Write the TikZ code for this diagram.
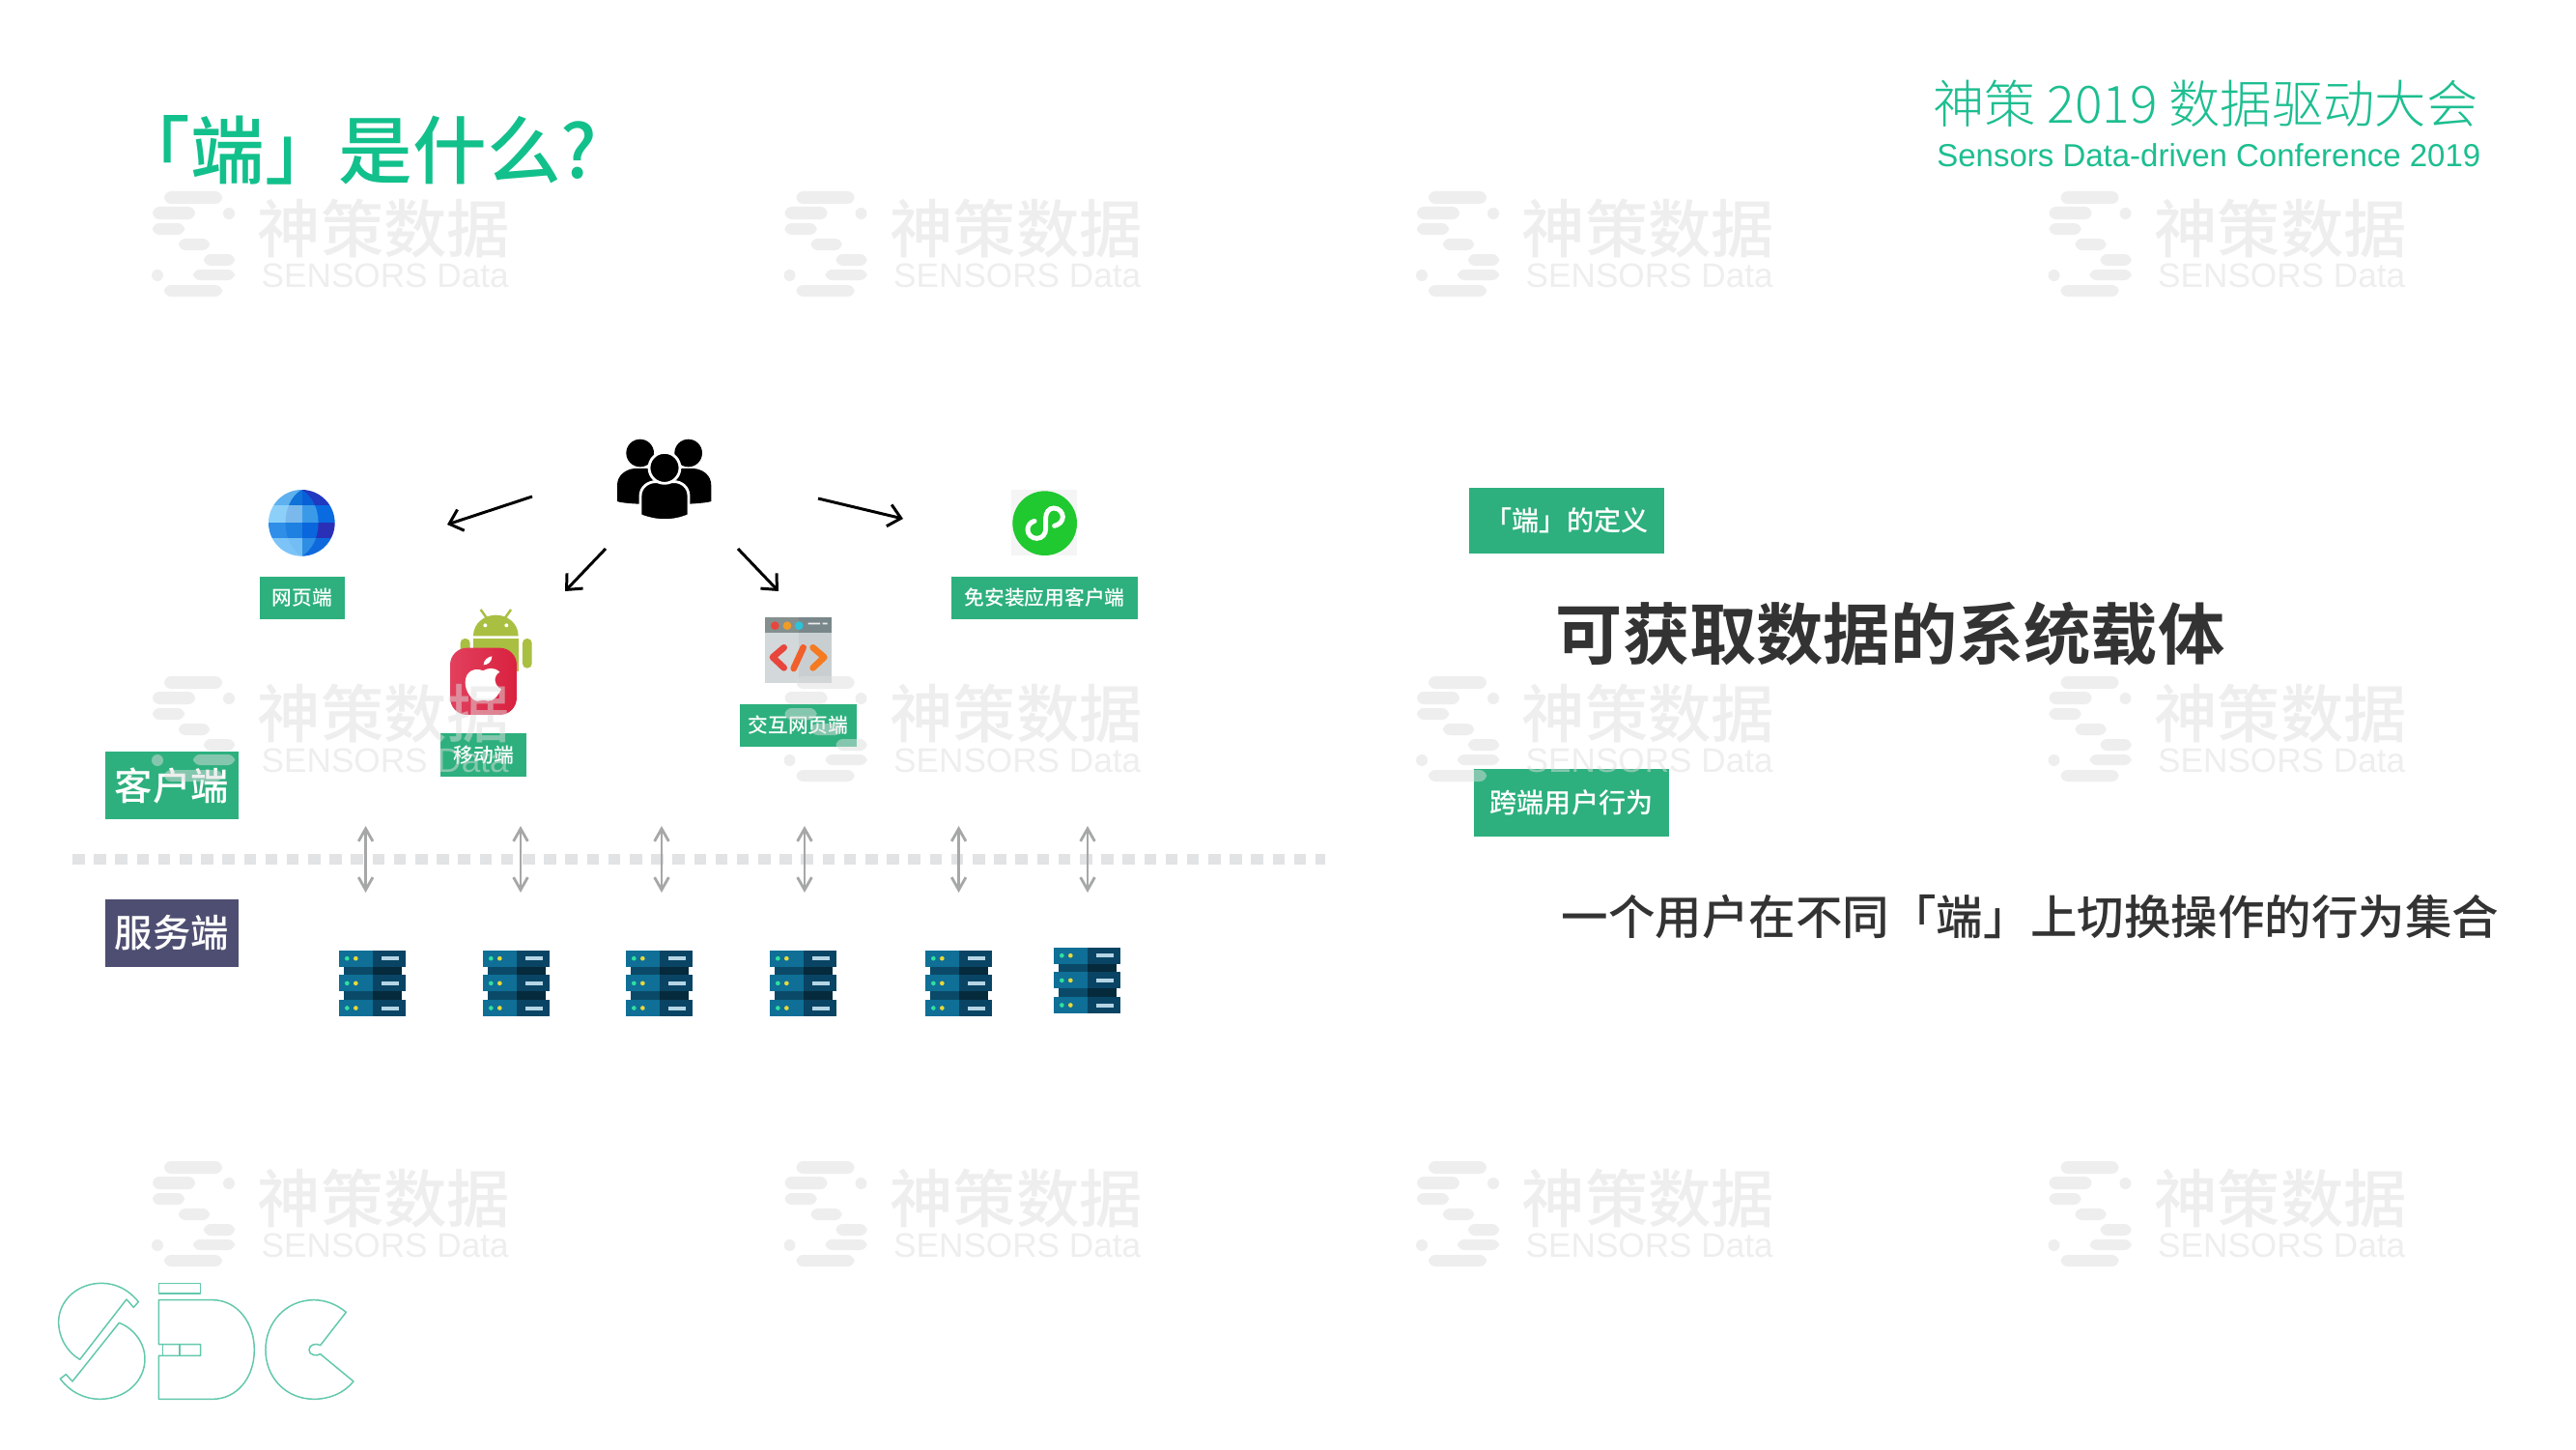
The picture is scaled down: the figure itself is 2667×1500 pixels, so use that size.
\documentclass[tikz,border=0pt]{standalone}
\usepackage{fontspec}
\usetikzlibrary{arrows.meta}
\setmainfont{Liberation Sans}
\newfontfamily\cjk{Noto Sans CJK SC}
\newfontfamily\cjkL{Noto Sans CJK SC Light}
\newfontfamily\cjkM{Noto Sans CJK SC Medium}
\newfontfamily\cjkB{Noto Sans CJK SC Bold}
\definecolor{sgreen}{HTML}{2DB07E}
\definecolor{stitle}{HTML}{12C08C}
\definecolor{shead}{HTML}{1DBE90}
\definecolor{snavy}{HTML}{4E4E72}
\definecolor{sdark}{HTML}{333333}
\definecolor{slogo}{HTML}{62C8AC}
\definecolor{sarrow}{HTML}{A6A8A8}
\definecolor{sdots}{HTML}{E1E3E5}
\definecolor{swm}{HTML}{DEDEDE}
\definecolor{srvA}{HTML}{0F6F96}
\definecolor{srvB}{HTML}{0A4464}
\definecolor{srvC}{HTML}{0A4A68}
\definecolor{srvD}{HTML}{052A3C}
\definecolor{srvE}{HTML}{B5D5E5}
\definecolor{srvF}{HTML}{2FE0A0}
\definecolor{srvG}{HTML}{E8D83A}
\definecolor{droid}{HTML}{A9BF42}
\definecolor{appleA}{HTML}{E2405E}
\definecolor{appleB}{HTML}{D9213F}
\definecolor{codeA}{HTML}{D3D8DA}
\definecolor{codeB}{HTML}{C9CFD1}
\definecolor{codeC}{HTML}{84908F}
\definecolor{codeD}{HTML}{79878A}
\definecolor{codeE}{HTML}{E8453C}
\definecolor{codeF}{HTML}{F0602A}
\definecolor{codeG}{HTML}{F57A22}
\definecolor{codeH}{HTML}{F39C24}
\definecolor{codeI}{HTML}{2CC4D8}
\definecolor{wechat}{HTML}{1FC92F}
\tikzset{
  tagbox/.style={fill=sgreen,text=white,inner sep=0pt,font=\cjkM\fontsize{5.9pt}{7pt}\selectfont},
  bigtag/.style={tagbox,font=\cjkM\fontsize{11.2pt}{12pt}\selectfont},
  deftag/.style={tagbox,font=\cjkM\fontsize{8pt}{10pt}\selectfont},
  blackarrow/.style={black,line width=0.85pt,-{Straight Barb[length=3.6pt,width=6.5pt,line width=0.85pt]}},
  greyarrow/.style={sarrow,line width=0.8pt,{Straight Barb[length=3.7pt,width=4.2pt,line width=0.8pt]}-{Straight Barb[length=3.7pt,width=4.2pt,line width=0.8pt]}},
  sdcline/.style={slogo,line width=0.42pt,line join=round},
  wmfill/.style={fill=swm,opacity=0.5,draw=none},
  wmtext/.style={text=swm,text opacity=0.5,inner sep=0pt,anchor=west},
}
\newcommand{\tagt}[1]{\raisebox{-0.35pt}{#1}}
\newcommand{\serverIcon}[2]{%
\begin{scope}[shift={(#1-6,#2-8)},scale=0.3333]
  \fill[srvC] (32,70) rectangle (122,185);
  \fill[srvD] (122,70) rectangle (212,185);
  \foreach \yy in {24,101,178}{
    \fill[srvA] (18,\yy) rectangle (122,\yy+51);
    \fill[srvB] (122,\yy) rectangle (225,\yy+51);
    \fill[srvF] (43,\yy+26) circle (7);
    \fill[srvG] (70,\yy+26) circle (7);
    \fill[srvE] (150,\yy+20) rectangle (205,\yy+32);
  }
\end{scope}}
\newcommand{\wmark}[3]{%
\begin{scope}[shift={(#1,#2)}]
  \foreach \xa/\ya/\xb/\yb in {170/198/230/211,158/214/202/227,158/231/191/243,185/247/217/259,211/263/243/275,200/279/243/290,170/295/230/307}{
    \fill[wmfill,rounded corners=2pt] (\xa,\ya) rectangle (\xb,\yb);
  }
  \fill[wmfill] (237,221) circle (6);
  \fill[wmfill] (163,285) circle (6);
  \node[wmtext,font=\cjkM\fontsize{18.6pt}{20pt}\selectfont] (wmcn#3) at (266,237) {神策数据};
  \node[wmtext,font=\fontsize{10pt}{11pt}\selectfont] (wmen#3) at (270,285) {SENSORS Data};
\end{scope}}
\begin{document}
\begin{tikzpicture}[x=0.01cm,y=-0.01cm]
\useasboundingbox (0,0) rectangle (2667,1500);
\fill[white] (0,0) rectangle (2667,1500);

% title and header
\node[inner sep=0pt,anchor=west,text=stitle,font=\cjkM\fontsize{21.8pt}{24pt}\selectfont] (title) at (120,155) {「端」是什么?};
\node[inner sep=0pt,anchor=east,text=shead,font=\cjkL\fontsize{15.15pt}{18pt}\selectfont] (headcn) at (2566,107) {神策 2019 数据驱动大会};
\node[inner sep=0pt,anchor=east,text=shead,font=\fontsize{9.38pt}{11pt}\selectfont] (headen) at (2569,161) {Sensors Data-driven Conference 2019};

% dotted divider
\coordinate (divL) at (75,889.5);
\coordinate (divR) at (1372,889.5);
\draw[sdots,line width=3.13pt,dash pattern=on 3.58pt off 2.73pt] (divL) -- (divR);

% people
\begin{scope}[shift={(630,445)},scale=0.3333]
  \fill (98,72) circle (43);
  \fill (248,72) circle (43);
  \fill (27,222) -- (27,172) .. controls (27,140) and (55,122) .. (80,120) -- (265,120) .. controls (292,122) and (319,140) .. (319,172) -- (319,222) .. controls (280,235) and (60,235) .. (27,222) -- cycle;
  \fill[black,draw=white,line width=0.8pt] (99,266) -- (99,205) .. controls (99,178) and (123,161) .. (145,161) -- (205,161) .. controls (227,161) and (249,178) .. (249,205) -- (249,266) .. controls (200,286) and (150,286) .. (99,266) -- cycle;
  \fill[black,draw=white,line width=0.8pt] (174,118) circle (48);
\end{scope}

% globe
\begin{scope}[shift={(270,500)},scale=0.3333]
  \clip (127,124) circle (103);
  \foreach \ya/\yb/\ca/\cb/\cc/\cd in {
    20/70/5EB0EE/0F72D8/0860D8/2138C0,
    70/122/8CD0FA/7BB8EC/3A9AE8/0A6AE0,
    122/170/2E8EE8/1E80E0/0A66DC/2A2FB8,
    170/230/7CC4F8/72BEF4/2E8EE4/0E6ADC}{
    \definecolor{ga}{HTML}{\ca}\definecolor{gb}{HTML}{\cb}\definecolor{gc}{HTML}{\cc}\definecolor{gd}{HTML}{\cd}
    \fill[ga] (20,\ya) rectangle (129,\yb);
    \fill[gd] (129,\ya) rectangle (235,\yb);
    \begin{scope}
      \clip (127,21) .. controls (60,60) and (60,188) .. (127,227) .. controls (196,188) and (196,60) .. (127,21) -- cycle;
      \fill[gb] (20,\ya) rectangle (129,\yb);
      \fill[gc] (129,\ya) rectangle (235,\yb);
    \end{scope}
  }
\end{scope}

% mini program mark
\begin{scope}[shift={(1040,500)},scale=0.3333]
  \fill[black!4] (22,22) rectangle (225,226);
  \fill[wechat] (125,125) circle (100);
  \draw[white,line width=1.4pt,line cap=round] (93,118) .. controls (78,122) and (72,135) .. (72,145) .. controls (72,160) and (85,172) .. (100,172) .. controls (118,172) and (128,158) .. (128,142) -- (128,108) .. controls (128,92) and (138,78) .. (153,78) .. controls (170,78) and (181,92) .. (181,105) .. controls (181,118) and (170,130) .. (155,133);
\end{scope}

% android and apple
\begin{scope}[shift={(455,625)},scale=0.3333]
  \draw[droid,line width=0.7pt] (128,18) -- (147,45) (222,18) -- (203,45);
  \fill[droid] (105,100) .. controls (105,60) and (140,35) .. (175,35) .. controls (210,35) and (245,60) .. (245,100) -- cycle;
  \fill[white] (142,67) circle (6) (208,67) circle (6);
  \fill[droid] (105,108) rectangle (245,210);
  \fill[droid,rounded corners=1.3pt] (65,108) rectangle (95,205);
  \fill[droid,rounded corners=1.3pt] (258,108) rectangle (287,200);
  \shade[left color=appleA,right color=appleB,rounded corners=5pt] (33,137) rectangle (240,345);
  \fill[white] (135,208) .. controls (115,198) and (80,205) .. (80,245) .. controls (80,275) and (105,305) .. (120,302) .. controls (130,300) and (140,297) .. (150,302) .. controls (170,305) and (185,280) .. (192,265) .. controls (170,255) and (165,225) .. (187,212) .. controls (170,195) and (150,200) .. (135,208) -- cycle;
  \fill[white] (137,190) .. controls (137,175) and (150,165) .. (163,163) .. controls (163,180) and (150,190) .. (137,190) -- cycle;
\end{scope}

% code window
\begin{scope}[shift={(785,632)},scale=0.3333]
  \fill[codeA] (22,70) rectangle (125,226);
  \fill[codeB] (125,70) rectangle (227,226);
  \fill[codeC] (22,22) rectangle (125,70);
  \fill[codeD] (125,22) rectangle (227,70);
  \fill[codeE] (52,47) circle (13);
  \fill[codeH] (90,47) circle (13);
  \fill[codeI] (127,47) circle (13);
  \fill[white!85!gray] (155,38) rectangle (192,43) (200,38) rectangle (215,43);
  \draw[codeE,line width=1.9pt,line cap=round,line join=round] (80,115) -- (45,145) -- (80,178);
  \draw[codeF,line width=1.9pt,line cap=round] (140,115) -- (110,180);
  \draw[codeG,line width=1.9pt,line cap=round,line join=round] (170,115) -- (205,145) -- (170,178);
\end{scope}

% client labels
\node[tagbox,minimum width=88pt*0.2845,minimum height=44pt*0.2845] (web) at (313,619) {\tagt{网页端}};
\node[tagbox,minimum width=193pt*0.2845,minimum height=44pt*0.2845] (mini) at (1081.5,619) {\tagt{免安装应用客户端}};
\node[tagbox,minimum width=88.5pt*0.2845,minimum height=45pt*0.2845] (mobile) at (500.7,781.5) {\tagt{移动端}};
\node[tagbox,minimum width=121pt*0.2845,minimum height=44pt*0.2845] (h5) at (826.5,751) {\tagt{交互网页端}};
\node[bigtag,minimum width=138pt*0.2845,minimum height=70pt*0.2845] (client) at (178,813) {\tagt{客户端}};
\node[bigtag,fill=snavy,minimum width=138pt*0.2845,minimum height=70pt*0.2845] (server) at (178,966) {\tagt{服务端}};

% right column
\node[deftag,minimum width=202pt*0.2845,minimum height=68pt*0.2845] (defa) at (1622,539) {\tagt{「端」的定义}};
\node[deftag,minimum width=202pt*0.2845,minimum height=70pt*0.2845] (defb) at (1627,831) {\tagt{跨端用户行为}};
\node[inner sep=0pt,anchor=west,text=sdark,font=\cjkB\fontsize{19.7pt}{22pt}\selectfont] (defatext) at (1610,656) {可获取数据的系统载体};
\node[inner sep=0pt,anchor=west,text=sdark,font=\cjkM\fontsize{13.8pt}{16pt}\selectfont] (defbtext) at (1616,949) {一个用户在不同「端」上切换操作的行为集合};

% arrows from the users
\coordinate (a1s) at (551,514); \coordinate (a1e) at (463,543);
\coordinate (a2s) at (627,568); \coordinate (a2e) at (585,612);
\coordinate (a3s) at (764,568); \coordinate (a3e) at (806,612);
\coordinate (a4s) at (847,516); \coordinate (a4e) at (935,537);
\draw[blackarrow] (a1s) -- (a1e);
\draw[blackarrow] (a2s) -- (a2e);
\draw[blackarrow] (a3s) -- (a3e);
\draw[blackarrow] (a4s) -- (a4e);

% double arrows and servers
\foreach \xx [count=\i] in {378.6,539,685,833,992.6,1126}{
  \coordinate (up\i) at (\xx,855);
  \coordinate (dn\i) at (\xx,924);
  \draw[greyarrow] (up\i) -- (dn\i);
}
\serverIcon{351}{983.5}
\serverIcon{500}{983.5}
\serverIcon{648}{983.5}
\serverIcon{797}{983.5}
\serverIcon{958}{983.5}
\serverIcon{1091}{980.5}

% SDC logo
\begin{scope}[shift={(30,1300)},scale=0.3333]
  \draw[sdcline] (340,143) .. controls (310,105) and (270,85) .. (225,85) .. controls (150,85) and (92,140) .. (92,205) .. controls (92,255) and (120,300) .. (158,322) -- (303,135) -- (325,160) -- cycle;
  \draw[sdcline] (97,382) .. controls (130,425) and (175,445) .. (220,445) .. controls (300,445) and (360,390) .. (360,320) .. controls (360,270) and (325,225) .. (280,208) -- (135,390) -- (115,368) -- cycle;
  \draw[sdcline] (403,85) rectangle (533,117);
  \draw[sdcline] (403,137) -- (570,137) .. controls (645,137) and (700,205) .. (700,292) .. controls (700,380) and (645,445) .. (570,445) -- (403,445) -- (403,310) -- (533,310) -- (533,275) -- (403,275) -- cycle;
  \draw[sdcline] (415,275) -- (415,310) (468,275) -- (468,310);
  \draw[sdcline] (985,175) .. controls (955,150) and (920,137) .. (885,137) .. controls (800,137) and (735,205) .. (735,292) .. controls (735,380) and (800,445) .. (885,445) .. controls (935,445) and (980,425) .. (1008,390) -- (905,305) .. controls (895,312) and (870,310) .. (870,292) .. controls (870,275) and (893,270) .. (905,278) -- cycle;
\end{scope}

% watermark
\foreach \cc in {0,1,2,3}{
  \foreach \rr in {0,1,2}{
    \wmark{\cc*654.5}{\rr*502}{\cc\rr}
  }
}
\end{tikzpicture}
\end{document}
